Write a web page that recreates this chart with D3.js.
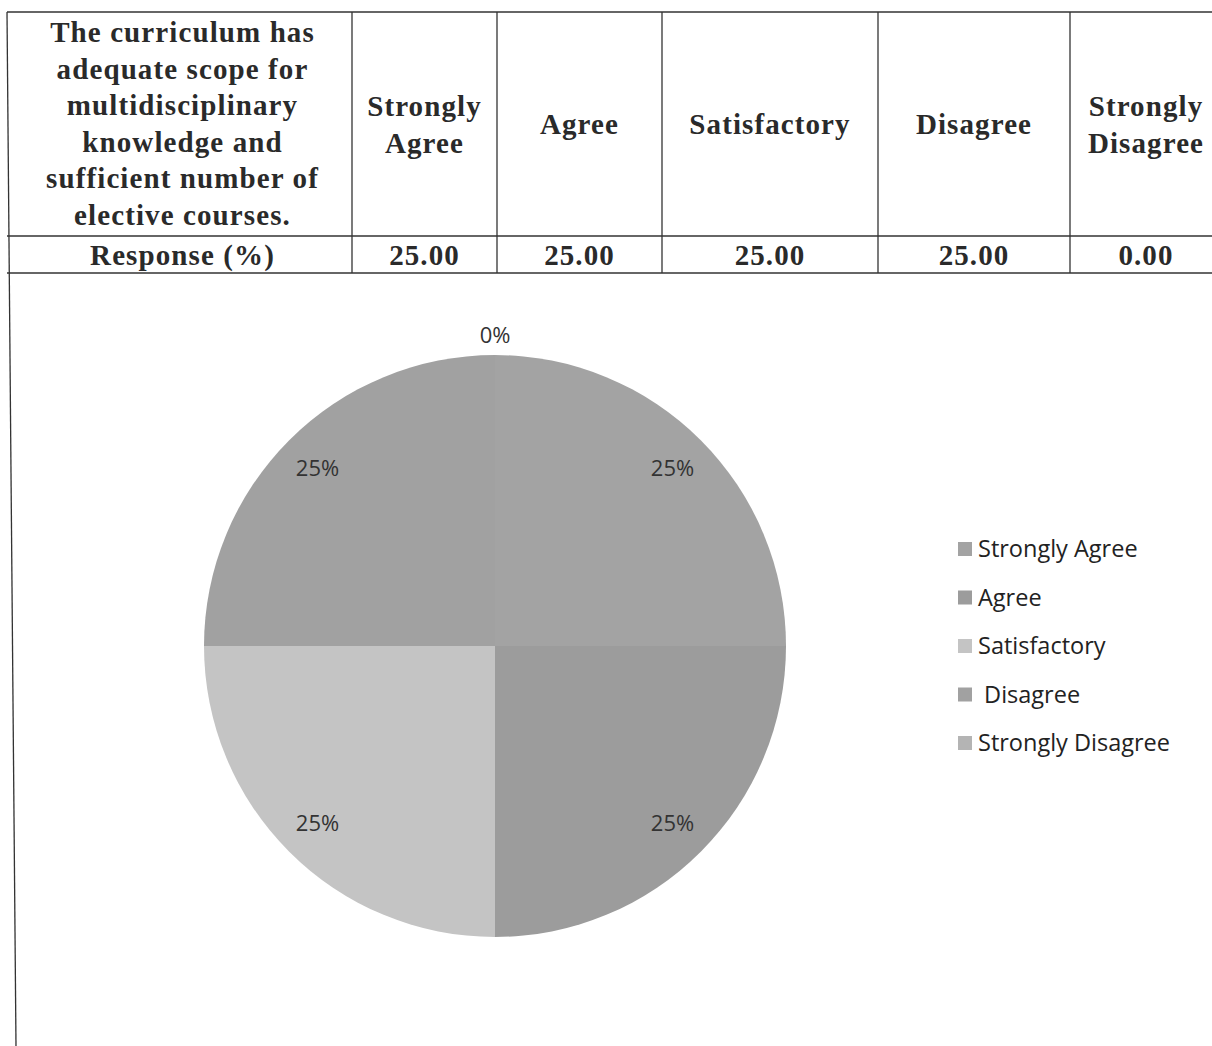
<!DOCTYPE html>
<html>
<head>
<meta charset="utf-8">
<script src="https://cdn.jsdelivr.net/npm/d3@7"></script>
<style>
  body { margin: 0; background: #fff; }
  svg { display: block; }
</style>
</head>
<body>
<svg id="chart" width="1212" height="1046"></svg>
<script>
var question = ["The curriculum has", "adequate scope for", "multidisciplinary", "knowledge and", "sufficient number of", "elective courses."];
var rowLabel = "Response (%)";
var categories = ["Strongly Agree", "Agree", "Satisfactory", "Disagree", "Strongly Disagree"];
var headerLines = [["Strongly", "Agree"], ["Agree"], ["Satisfactory"], ["Disagree"], ["Strongly", "Disagree"]];
var legendNames = ["Strongly Agree", "Agree", "Satisfactory", " Disagree", "Strongly Disagree"];
var responses = [25.00, 25.00, 25.00, 25.00, 0.00];

var svg = d3.select("#chart");

// table layout
var colEdges = [7, 352, 497, 662, 878, 1070, 1222],
  tableTop = 12, rowSplit = 236, tableBottom = 273;

var serif = "'Liberation Serif', 'Times New Roman', serif";
var table = svg.append("g").attr("stroke", "#333").attr("stroke-width", 1.3);

table.append("line").attr("x1", colEdges[0]).attr("x2", 1212).attr("y1", tableTop).attr("y2", tableTop);
table.append("line").attr("x1", colEdges[0]).attr("x2", 1212).attr("y1", rowSplit).attr("y2", rowSplit);
table.append("line").attr("x1", colEdges[0]).attr("x2", 1212).attr("y1", tableBottom).attr("y2", tableBottom);
colEdges.slice(1, -1).forEach((x) => {
  table.append("line").attr("x1", x).attr("x2", x).attr("y1", tableTop).attr("y2", tableBottom);
});
// left border runs down the page
table.append("line").attr("x1", colEdges[0]).attr("x2", 16).attr("y1", tableTop).attr("y2", 1046);

var txt = svg.append("g")
  .attr("font-family", serif)
  .attr("font-weight", "bold")
  .attr("font-size", 29)
  .attr("letter-spacing", 1.1)
  .attr("fill", "#2a2a2a")
  .attr("text-anchor", "middle");

var firstCx = (colEdges[0] + colEdges[1]) / 2 + 3;
question.forEach((line, i) => {
  txt.append("text").attr("x", firstCx).attr("y", 42 + i * 36.5).text(line);
});
txt.append("text").attr("x", firstCx).attr("y", 265).text(rowLabel);

headerLines.forEach((lines, c) => {
  var cx = (colEdges[c + 1] + colEdges[c + 2]) / 2;
  var y0 = 134 - (lines.length - 1) * 37 / 2;
  lines.forEach((l, k) => {
    txt.append("text").attr("x", cx).attr("y", y0 + k * 37).text(l);
  });
  txt.append("text").attr("x", cx).attr("y", 265).text(responses[c].toFixed(2));
});

// pie
var cx = 495, cy = 646, radius = 291;
var color = d3.scaleOrdinal()
  .domain(categories)
  .range(["#a3a3a3", "#9c9c9c", "#c4c4c4", "#a1a1a1", "#b4b4b4"]);

var pie = d3.pie().sort(null).value((d) => d.value);
var arcs = pie(categories.map((c, i) => ({ name: c, value: responses[i] })));
var arc = d3.arc().innerRadius(0).outerRadius(radius);

var g = svg.append("g").attr("transform", "translate(" + cx + "," + cy + ")");
g.selectAll("path")
  .data(arcs)
  .enter().append("path")
    .attr("d", arc)
    .attr("fill", (d) => color(d.data.name));

var labelArc = d3.arc().innerRadius(251).outerRadius(251);
var zeroArc = d3.arc().innerRadius(311).outerRadius(311);
g.selectAll("text")
  .data(arcs)
  .enter().append("text")
    .attr("transform", (d) => "translate(" + (d.value === 0 ? zeroArc : labelArc).centroid(d) + ")")
    .attr("text-anchor", "middle")
    .attr("dy", "0.35em")
    .attr("font-family", "'Open Sans', 'Noto Sans', sans-serif")
    .attr("font-size", 22)
    .attr("fill", "#333")
    .text((d) => Math.round(d.value) + "%");

// legend
var legend = svg.append("g").attr("transform", "translate(958, 549)");
var item = legend.selectAll("g")
  .data(categories)
  .enter().append("g")
    .attr("transform", (d, i) => "translate(0," + i * 48.5 + ")");
item.append("rect")
  .attr("x", 0).attr("y", -7).attr("width", 14).attr("height", 14)
  .attr("fill", (d) => color(d));
item.append("text")
  .attr("x", 20)
  .attr("dy", "0.35em")
  .attr("font-family", "'Open Sans', 'Noto Sans', sans-serif")
  .attr("font-size", 23.5)
  .attr("fill", "#222")
  .style("white-space", "pre")
  .text((d, i) => legendNames[i]);
</script>
</body>
</html>
